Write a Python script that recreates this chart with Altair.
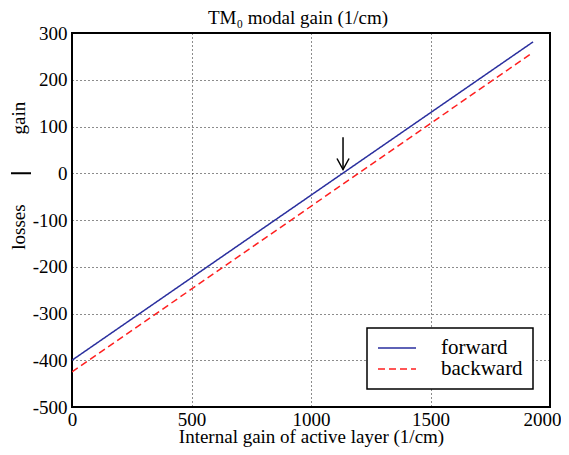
import altair as alt
import pandas as pd

# ---- data ----
series_names = ["forward", "backward"]
forward_x = [0, 1929]
forward_y = [-400, 281]
backward_x = [0, 1916]
backward_y = [-425, 254]

x_ticks = [0, 500, 1000, 1500, 2000]
y_ticks = [-500, -400, -300, -200, -100, 0, 100, 200, 300]

arrow_x = [1134]
arrow_top = [77]
arrow_tip = [8]

side_labels = ["gain", "losses"]
side_label_y = [118, -115]

title_text = "TM₀ modal gain (1/cm)"
x_title = "Internal gain of active layer (1/cm)"

colors = ["#2a2f9e", "#ff1f1f"]
FONT = "Liberation Serif"

rows = []
for name, xs, ys in zip(series_names, [forward_x, backward_x], [forward_y, backward_y]):
    for xv, yv in zip(xs, ys):
        rows.append({"series": name, "x": xv, "y": yv})
df = pd.DataFrame(rows)

xscale = alt.Scale(domain=[0, 2000], nice=False, zero=False)
yscale = alt.Scale(domain=[-500, 300], nice=False, zero=False)

lines = alt.Chart(df).mark_line(strokeWidth=1.5, clip=True).encode(
    x=alt.X("x:Q", scale=xscale,
            axis=alt.Axis(values=x_ticks, title=x_title,
                          labelExpr="'' + datum.value", labelFlush=False,
                          labelOffset={"condition": {"test": "datum.value == 2000", "value": -8},
                                       "value": 0},
                          labelFont=FONT, labelFontSize=19, labelPadding=3,
                          titleY=35, titleBaseline="alphabetic")),
    y=alt.Y("y:Q", scale=yscale,
            axis=alt.Axis(values=y_ticks, title=None, labelExpr="'' + datum.value",
                          labelFlush=False, labelFont=FONT, labelFontSize=19,
                          labelPadding=5)),
    color=alt.Color("series:N", scale=alt.Scale(domain=series_names, range=colors),
                    legend=alt.Legend(title=None)),
    strokeDash=alt.StrokeDash("series:N",
                              scale=alt.Scale(domain=series_names, range=[[1, 0], [7, 4]]),
                              legend=alt.Legend(title=None)),
    detail="series:N",
)

arrow_df = pd.DataFrame({"x": arrow_x, "top": arrow_top, "tip": arrow_tip})
shaft = alt.Chart(arrow_df).mark_rule(color="black", strokeWidth=1.5).encode(
    x="x:Q", y="top:Q", y2="tip:Q")
head = alt.Chart(arrow_df).mark_point(
    shape="M-0.55,-1L0,0L0.55,-1", filled=False, color="black", strokeWidth=1.5,
    size=484, opacity=1).encode(x="x:Q", y="tip:Q")

side_df = pd.DataFrame({"label": side_labels, "y": side_label_y})
side_text = alt.Chart(side_df).mark_text(
    angle=270, font=FONT, fontSize=19, color="black", align="center", baseline="middle"
).encode(x=alt.value(-53), y=alt.Y("y:Q"), text="label:N")

sep_df = pd.DataFrame({"y": [0]})
sep = alt.Chart(sep_df).mark_rule(color="black", strokeWidth=2).encode(
    x=alt.value(-61), x2=alt.value(-41), y="y:Q")

title_df = pd.DataFrame({"t": [title_text]})
title_mark = alt.Chart(title_df).mark_text(
    font=FONT, fontSize=19, color="black", align="center", baseline="alphabetic"
).encode(x=alt.value(226), y=alt.value(-9), text="t:N")

chart = alt.layer(lines, shaft, head, side_text, sep, title_mark).properties(
    width=478, height=374,
    autosize=alt.AutoSizeParams(type="none"),
    padding={"left": 64, "top": 25, "right": 11, "bottom": 40},
).configure_view(
    stroke="black", strokeWidth=2
).configure_axis(
    domain=False, ticks=False, grid=True, gridColor="black", gridDash=[1, 3],
    gridWidth=1, gridOpacity=0.9,
    labelFont=FONT, labelFontSize=19, labelColor="black",
    titleFont=FONT, titleFontSize=19, titleFontWeight="normal", titleColor="black",
).configure_legend(
    orient="none", legendX=295, legendY=295, strokeColor="black", fillColor="white",
    strokeWidth=1.5, padding=10, labelFont=FONT, labelFontSize=21, labelColor="black",
    labelOffset=24, symbolType="stroke", symbolSize=1444, symbolStrokeWidth=1.5,
    clipHeight=20, rowPadding=0, labelLimit=300,
)

chart.save("out.html", embed_options={"renderer": "svg", "actions": False})
